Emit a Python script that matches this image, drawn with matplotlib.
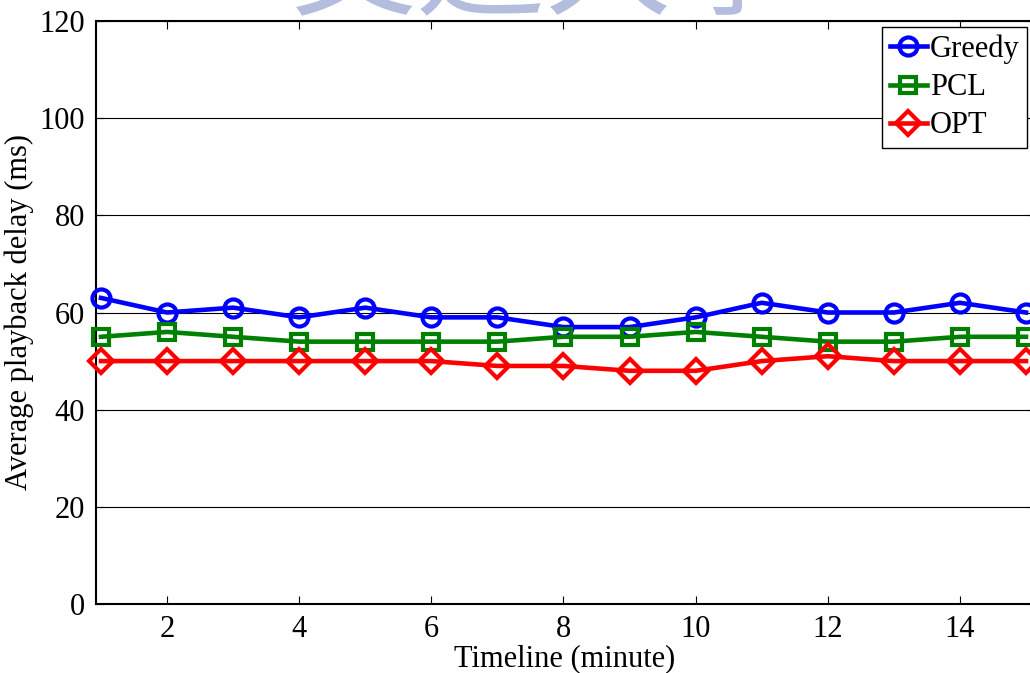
import matplotlib
matplotlib.use("Agg")
import matplotlib.pyplot as plt

# average playback delay per minute for each scheduler
minutes = list(range(1, 16))
greedy = [63, 60, 61, 59, 61, 59, 59, 57, 57, 59, 62, 60, 60, 62, 60]
pcl = [55, 56, 55, 54, 54, 54, 54, 55, 55, 56, 55, 54, 54, 55, 55]
opt = [50, 50, 50, 50, 50, 50, 49, 49, 48, 48, 50, 51, 50, 50, 50]

xticks = [2, 4, 6, 8, 10, 12, 14]
yticks = [0, 20, 40, 60, 80, 100, 120]

plt.rcParams['font.family'] = ['Liberation Serif', 'DejaVu Serif']
plt.rcParams['font.size'] = 22

W, H = 1030, 673
fig = plt.figure(figsize=(W / 100, H / 100), dpi=100)

# faint logo strip along the top edge, mostly hidden behind the axes
fig.text(545 / W, 1 - 4 / H, "交通大學", fontsize=92, color='#b4bddd',
         ha='center', va='baseline', family=['Noto Sans CJK TC'], zorder=0)

ax = fig.add_axes([96 / W, 1 - 604 / H, 938 / W, 583 / H])
ax.set_zorder(1)
ax.set_facecolor('white')

ax.plot(minutes, greedy, color='blue', lw=3.3, marker='o', ms=13, mew=3,
        mfc='none', label='Greedy', clip_on=False, zorder=3)
ax.plot(minutes, pcl, color='green', lw=3.3, marker='s', ms=11, mew=3,
        mfc='none', label='PCL', clip_on=False, zorder=3)
ax.plot(minutes, opt, color='red', lw=3.3, marker='D', ms=12, mew=3,
        mfc='none', label='OPT', clip_on=False, zorder=3)

ax.set_xlim(1 - 5 / 66.07, 15 + 8 / 66.07)
ax.set_ylim(0, 120)
ax.set_xticks(xticks)
ax.set_yticks(yticks)
ax.tick_params(direction='in', length=6, width=0.8, top=True, right=True, pad=8)
ax.yaxis.grid(True, color='black', lw=0.8)
ax.set_axisbelow(True)
for s in ax.spines.values():
    s.set_linewidth(1.5)

ax.set_xlabel("Timeline (minute)", labelpad=0)
ax.set_ylabel("Average playback delay (ms)", labelpad=4)

leg = ax.legend(loc='upper right', bbox_to_anchor=(931 / 938, 1 - 6 / 583),
                fontsize=22, handlelength=1.2, handletextpad=0.1,
                borderpad=0.25, labelspacing=0.3, borderaxespad=0,
                fancybox=False, framealpha=1, edgecolor='black')
leg.get_frame().set_linewidth(1.0)

fig.savefig("out.png", dpi=100)
